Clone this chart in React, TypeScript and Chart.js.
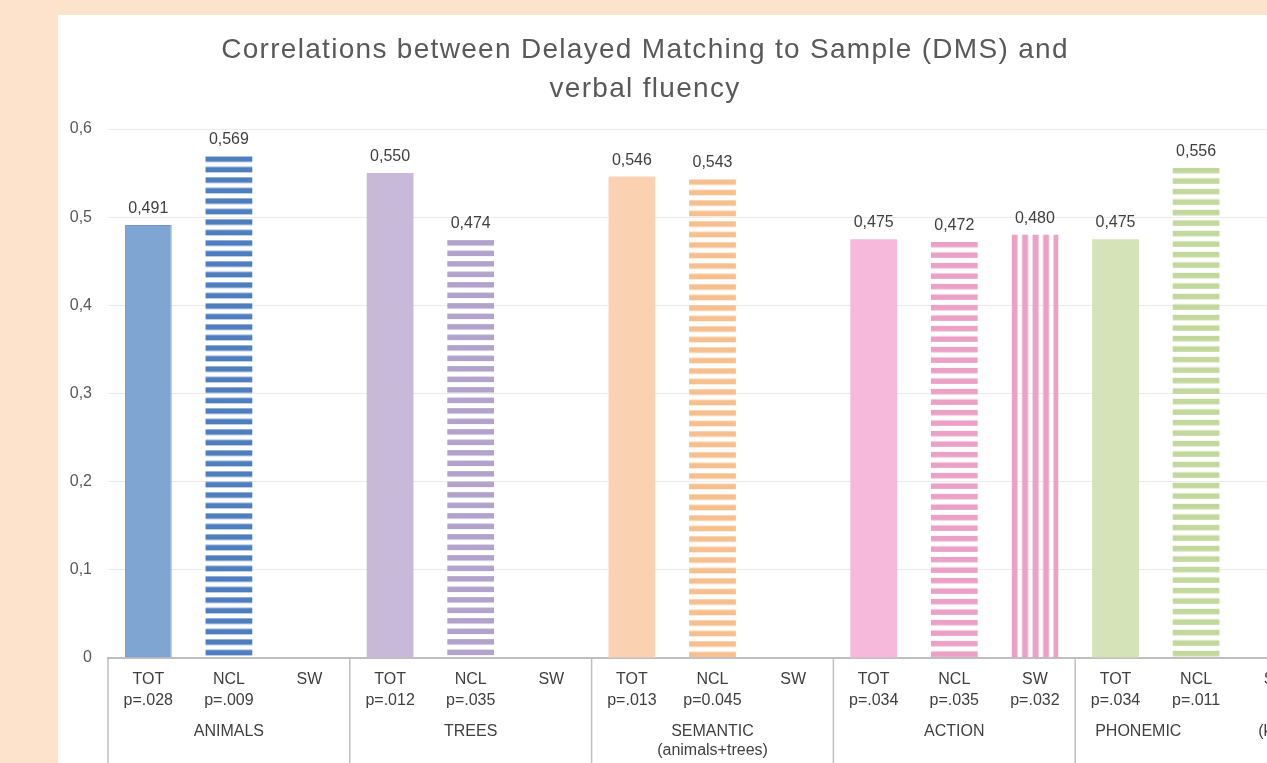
import React, { useEffect, useRef } from "react";
import { Chart, registerables } from "chart.js";

Chart.register(...registerables);

const FONT = "'Liberation Sans', Arial, sans-serif";

const titleLines = [
  "Correlations between Delayed Matching to Sample (DMS) and",
  "verbal fluency",
];
const groupNames = ["ANIMALS", "TREES", "SEMANTIC", "ACTION", "PHONEMIC"];
const groupSubNames = ["", "", "(animals+trees)", "", ""];
const groupNotes = ["", "", "", "", "(k"];
const measureNames = ["TOT", "NCL", "SW"];
const pLabels = [
  "p=.028", "p=.009", "",
  "p=.012", "p=.035", "",
  "p=.013", "p=0.045", "",
  "p=.034", "p=.035", "p=.032",
  "p=.034", "p=.011", "",
];
const correlations: (number | null)[] = [
  0.491, 0.569, null,
  0.55, 0.474, null,
  0.546, 0.543, null,
  0.475, 0.472, 0.48,
  0.475, 0.556, null,
];
const yTickLabels = ["0", "0,1", "0,2", "0,3", "0,4", "0,5", "0,6"];
const solidColors = ["#7FA6D3", "#C8B9D8", "#FBD2B1", "#F6B9DC", "#D4E3B8"];
const stripeColors = ["#4E7EBE", "#B3A2CC", "#F8BF8E", "#EBA1C6", "#C3D89C"];
const measureFills = ["solid", "hstripe", "vstripe"];

function makePattern(color: string, kind: string): CanvasPattern | string {
  const c = document.createElement("canvas");
  const ctx = c.getContext("2d");
  if (!ctx) return color;
  if (kind === "hstripe") {
    c.width = 8;
    c.height = 21;
    ctx.fillStyle = color;
    ctx.fillRect(0, 0, 8, 5.5);
    ctx.fillRect(0, 10.5, 8, 5.5);
  } else {
    c.width = 21;
    c.height = 8;
    ctx.fillStyle = color;
    ctx.fillRect(0, 0, 6, 8);
    ctx.fillRect(10.5, 0, 6, 8);
  }
  return ctx.createPattern(c, "repeat") || color;
}

export default function App() {
  const ref = useRef<HTMLCanvasElement | null>(null);

  useEffect(() => {
    const canvas = ref.current;
    if (!canvas) return;

    const labels: string[][] = [];
    const fills: any[] = [];
    const kinds: string[] = [];
    const borders: string[] = [];
    const borderWidths: number[] = [];
    groupNames.forEach((_, g) => {
      measureNames.forEach((m, k) => {
        const i = g * measureNames.length + k;
        labels.push(pLabels[i] ? [m, pLabels[i]] : [m]);
        const kind = measureFills[k];
        kinds.push(kind);
        fills.push(kind === "solid" ? solidColors[g] : makePattern(stripeColors[g], kind));
        borders.push(g === 0 && k === 0 ? "#6E97CB" : "rgba(0,0,0,0)");
        borderWidths.push(g === 0 && k === 0 ? 1 : 0);
      });
    });

    const patternAnchor = {
      id: "patternAnchor",
      beforeDatasetsDraw(chart: any) {
        const meta = chart.getDatasetMeta(0);
        meta.data.forEach((el: any, i: number) => {
          const f = fills[i];
          if (typeof f === "string" || !f || !f.setTransform) return;
          const left = el.x - el.width / 2;
          const m =
            kinds[i] === "hstripe"
              ? new DOMMatrix([1, 0, 0, 1, 0, el.y])
              : new DOMMatrix([1, 0, 0, 1, left, 0]);
          f.setTransform(m);
        });
      },
    };

    const valueLabels = {
      id: "valueLabels",
      afterDatasetsDraw(chart: any) {
        const ctx = chart.ctx;
        const meta = chart.getDatasetMeta(0);
        ctx.save();
        ctx.font = `16px ${FONT}`;
        ctx.fillStyle = "#404040";
        ctx.textAlign = "center";
        ctx.textBaseline = "alphabetic";
        meta.data.forEach((el: any, i: number) => {
          const v = correlations[i];
          if (v === null || v === undefined) return;
          ctx.fillText(v.toFixed(3).replace(".", ","), el.x, el.y - 12);
        });
        ctx.restore();
      },
    };

    const groupAxis = {
      id: "groupAxis",
      afterDraw(chart: any) {
        const ctx = chart.ctx;
        const x = chart.scales.x;
        const slot = x.getPixelForValue(1) - x.getPixelForValue(0);
        const n = measureNames.length;
        ctx.save();
        ctx.strokeStyle = "#BFBFBF";
        ctx.lineWidth = 1.5;
        for (let g = 0; g <= groupNames.length; g++) {
          const px = x.getPixelForValue(g * n) - slot / 2;
          ctx.beginPath();
          ctx.moveTo(px, x.top);
          ctx.lineTo(px, chart.height);
          ctx.stroke();
        }
        ctx.fillStyle = "#404040";
        ctx.font = `16px ${FONT}`;
        ctx.textBaseline = "middle";
        groupNames.forEach((name, g) => {
          const left = x.getPixelForValue(g * n) - slot / 2;
          const right = left + slot * n;
          if (groupNotes[g]) {
            ctx.textAlign = "left";
            ctx.fillText(name, left + 20, x.top + 74);
            ctx.fillText(groupNotes[g], left + 183, x.top + 74);
          } else {
            ctx.textAlign = "center";
            ctx.fillText(name, (left + right) / 2, x.top + 74);
            if (groupSubNames[g]) ctx.fillText(groupSubNames[g], (left + right) / 2, x.top + 93);
          }
        });
        ctx.restore();
      },
    };

    const titlePlugin = {
      id: "titleText",
      afterDraw(chart: any) {
        const ctx = chart.ctx;
        ctx.save();
        ctx.font = `28px ${FONT}`;
        (ctx as any).letterSpacing = "1.3px";
        ctx.fillStyle = "#595959";
        ctx.textAlign = "center";
        ctx.textBaseline = "middle";
        ctx.fillText(titleLines[0], 587, 35.5);
        ctx.fillText(titleLines[1], 587, 74.5);
        ctx.restore();
      },
    };

    const chart = new Chart(canvas, {
      type: "bar",
      data: {
        labels,
        datasets: [
          {
            data: correlations as any,
            backgroundColor: fills,
            borderColor: borders,
            borderWidth: borderWidths,
            barPercentage: 0.58,
            categoryPercentage: 1,
          },
        ],
      },
      options: {
        responsive: false,
        animation: false,
        events: [],
        layout: { padding: { top: 114, right: 31, bottom: 0, left: 0 } },
        plugins: {
          legend: { display: false },
          title: { display: false },
          tooltip: { enabled: false },
        },
        scales: {
          x: {
            grid: { display: false, drawTicks: false },
            border: { color: "#BFBFBF", width: 2 },
            ticks: {
              color: "#404040",
              font: { family: FONT, size: 16, lineHeight: 1.3 },
              padding: 11,
              maxRotation: 0,
              autoSkip: false,
            },
            afterFit: (s: any) => {
              s.height = 137;
            },
          },
          y: {
            min: 0,
            max: 0.6,
            grid: { color: "#EBEBEB", drawTicks: false },
            border: { display: false },
            ticks: {
              stepSize: 0.1,
              padding: 16,
              color: "#595959",
              font: { family: FONT, size: 16 },
              callback: (v: any) => yTickLabels[Math.round(Number(v) * 10)],
            },
            afterFit: (s: any) => {
              s.width = 50;
            },
          },
        },
      } as any,
      plugins: [patternAnchor, valueLabels, groupAxis, titlePlugin],
    });

    return () => chart.destroy();
  }, []);

  return (
    <div style={{ position: "fixed", inset: 0, background: "#FDE3CB", overflow: "hidden" }}>
      <div
        style={{
          position: "absolute",
          left: 58,
          top: 15,
          width: 1290,
          height: 780,
          background: "#FFFFFF",
        }}
      >
        <canvas ref={ref} width={1290} height={780} style={{ display: "block" }} />
      </div>
    </div>
  );
}
